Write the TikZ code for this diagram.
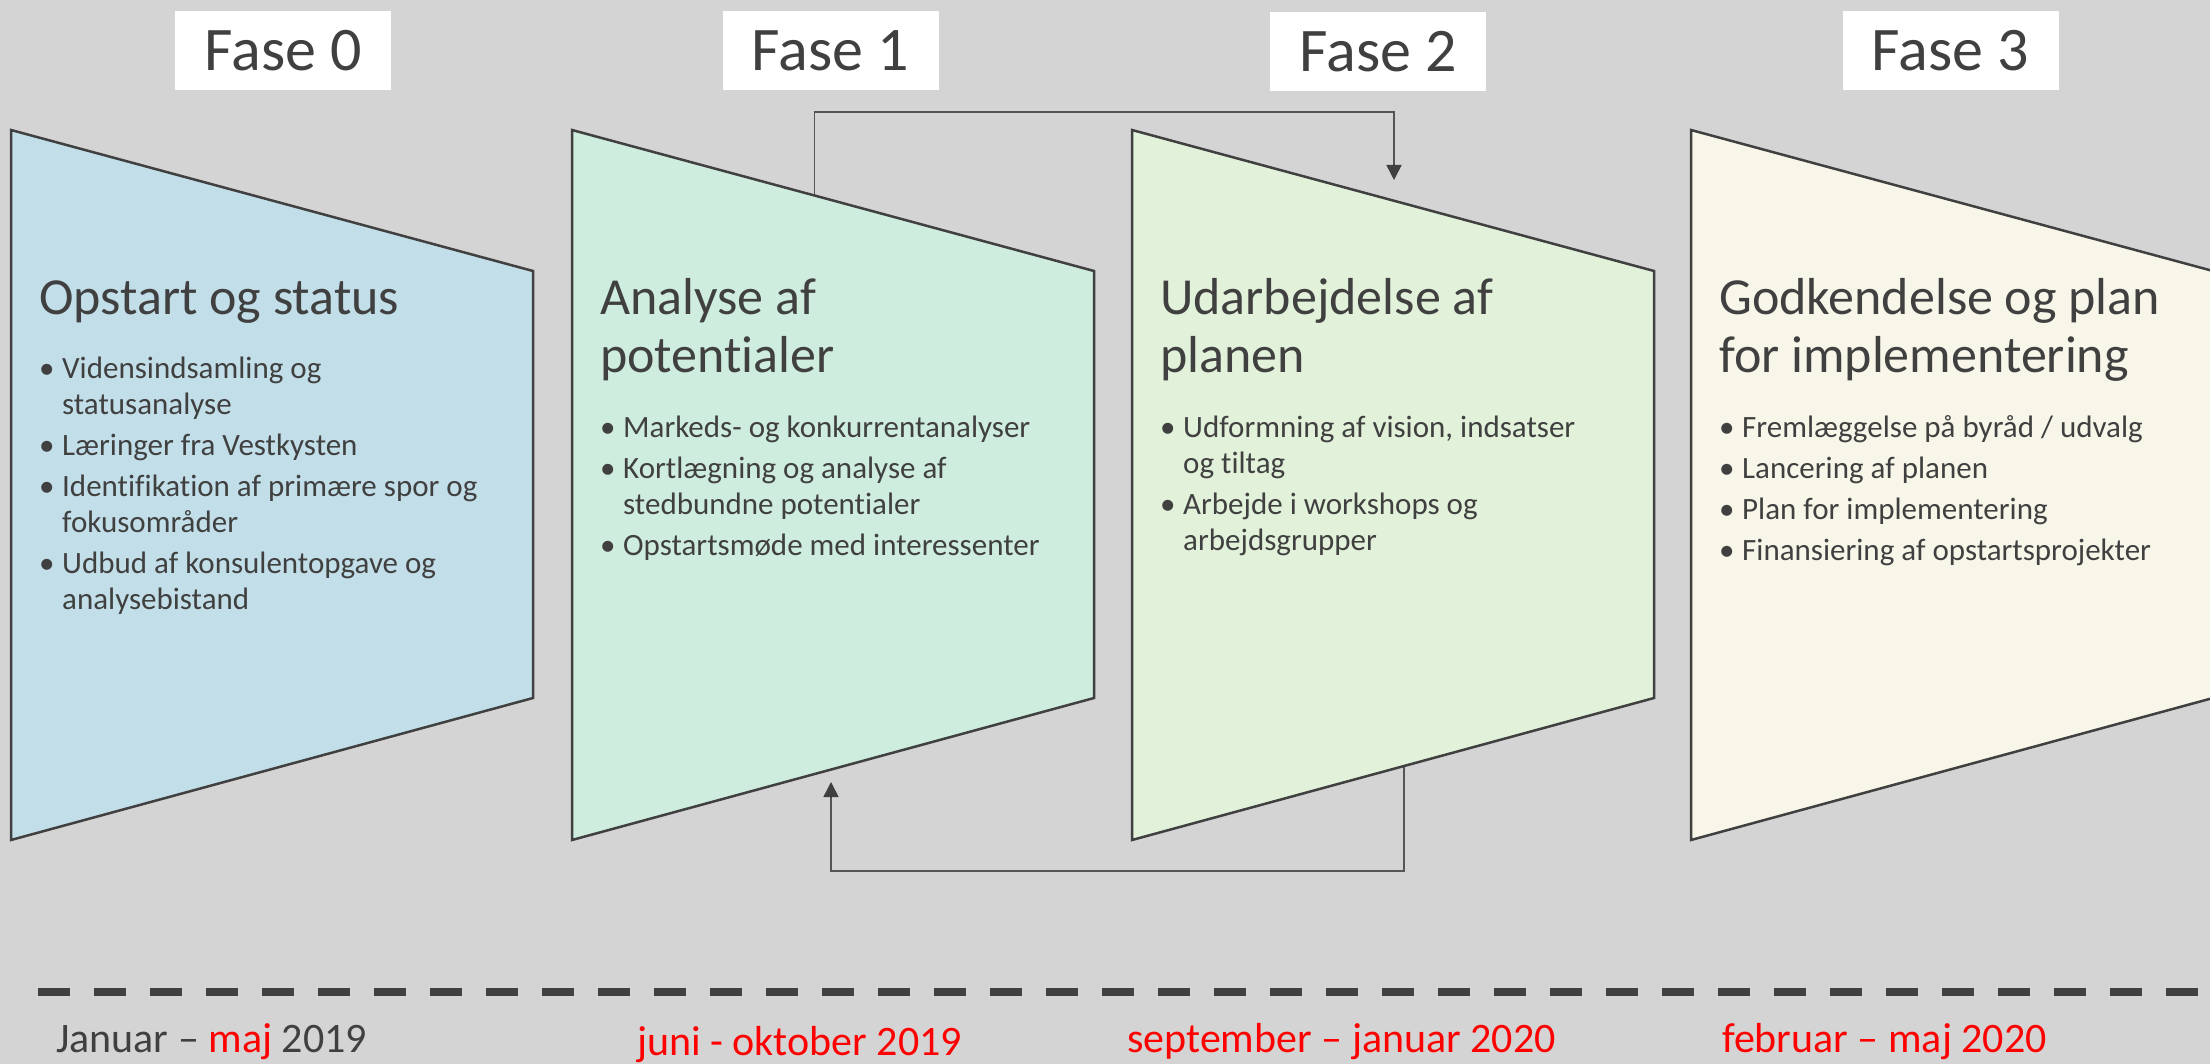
\documentclass[tikz,border=0pt]{standalone}
\usepackage{fontspec}
\setmainfont{Carlito}[Ligatures=NoCommon]
\usetikzlibrary{arrows.meta,calc}

\definecolor{bg}{HTML}{D4D4D4}
\definecolor{ink}{HTML}{404040}
\definecolor{wire}{HTML}{555555}
\definecolor{fasezero}{HTML}{C2DEE8}
\definecolor{faseone}{HTML}{CEEDDE}
\definecolor{fasetwo}{HTML}{E2F2DA}
\definecolor{fasethree}{HTML}{F7F6E9}
\definecolor{datered}{HTML}{FF0000}

% bullet list set as a top-aligned table: bullet column + text column
\newcommand\phaselist[1]{\begin{tabular}[t]{@{}l@{}l@{}}#1\end{tabular}}
\newcommand\bul{\makebox[23pt][l]{•}}
\newcommand\twolines[2]{\begin{tabular}[t]{@{}l@{}}#1\\#2\end{tabular}}

\begin{document}
\begin{tikzpicture}[x=1pt,y=-1pt,
  phase/.style={draw=ink,line width=2.5pt,line join=miter},
  fasebox/.style={fill=white,inner sep=0pt,minimum width=216pt,minimum height=79pt,
    text=ink,font=\fontsize{62}{70}\selectfont},
  head/.style={anchor=base west,inner sep=0pt,text=ink,font=\fontsize{52}{58}\selectfont},
  items/.style={anchor=base west,inner sep=0pt,text=ink,font=\fontsize{31}{36}\selectfont},
  datetext/.style={anchor=base west,inner sep=0pt,text=ink,font=\fontsize{42}{48}\selectfont},
  conn/.style={draw=wire,line width=1.6pt},
  tip/.style={-{Triangle[width=15pt,length=15pt]},color=ink}]

\useasboundingbox (0,0) rectangle (2210,1064);
\fill[bg] (0,0) rectangle (2210,1064);
\clip (0,0) rectangle (2210,1064);

% phase titles
\node[fasebox] (f0) at (283,50.5) {Fase 0};
\node[fasebox] (f1) at (830.5,50.5) {Fase 1};
\node[fasebox] (f2) at (1378,51.5) {Fase 2};
\node[fasebox] (f3) at (1950.5,50.5) {Fase 3};

% corner points of the four funnel shapes
\foreach \n/\L in {0/11,1/572,2/1132,3/1691}{
  \coordinate (s\n tl) at (\L,130);
  \coordinate (s\n tr) at (\L+522,271);
  \coordinate (s\n br) at (\L+522,698);
  \coordinate (s\n bl) at (\L,840);
}

% feedback loops between phase 1 and phase 2
\coordinate (p1out) at ($(s1tl)!0.4645!(s1tr)$);
\coordinate (p2in) at (1394,180);
\coordinate (toprail) at (0,112);
\draw[conn] (p1out) -- (p1out |- toprail) -- (p2in |- toprail) -- ($(p2in)+(0,-14)$);
\draw[conn,tip] ($(p2in)+(0,-16)$) -- (p2in);

\coordinate (p2out) at ($(s2bl)!0.521!(s2br)$);
\coordinate (p1in) at (831,782);
\coordinate (botrail) at (0,871);
\draw[conn] (p2out) -- (p2out |- botrail) -- (p1in |- botrail) -- ($(p1in)+(0,14)$);
\draw[conn,tip] ($(p1in)+(0,16)$) -- (p1in);

% funnel shapes
\draw[phase,fill=fasezero] (s0tl) -- (s0tr) -- (s0br) -- (s0bl) -- cycle;
\draw[phase,fill=faseone] (s1tl) -- (s1tr) -- (s1br) -- (s1bl) -- cycle;
\draw[phase,fill=fasetwo] (s2tl) -- (s2tr) -- (s2br) -- (s2bl) -- cycle;
\draw[phase,fill=fasethree] (s3tl) -- (s3tr) -- (s3br) -- (s3bl) -- cycle;

% headings
\node[head] (h0) at (39,315) {Opstart og status};
\node[head] (h1) at (600,315) {\twolines{Analyse af}{potentialer}};
\node[head] (h2) at (1160,315) {\twolines{Udarbejdelse af}{planen}};
\node[head] (h3) at (1719,315) {\twolines{Godkendelse og plan}{for implementering}};

% bullet lists
\node[items] (b0) at (39,378) {\phaselist{%
  \bul & Vidensindsamling og\\ & statusanalyse\\[5pt]
  \bul & Læringer fra Vestkysten\\[5pt]
  \bul & Identifikation af primære spor og\\ & fokusområder\\[5pt]
  \bul & Udbud af konsulentopgave og\\ & analysebistand}};
\node[items] (b1) at (600,437) {\phaselist{%
  \bul & Markeds- og konkurrentanalyser\\[5pt]
  \bul & Kortlægning og analyse af\\ & stedbundne potentialer\\[5pt]
  \bul & Opstartsmøde med interessenter}};
\node[items] (b2) at (1160,437) {\phaselist{%
  \bul & Udformning af vision, indsatser\\ & og tiltag\\[5pt]
  \bul & Arbejde i workshops og\\ & arbejdsgrupper}};
\node[items] (b3) at (1719,437) {\phaselist{%
  \bul & Fremlæggelse på byråd / udvalg\\[5pt]
  \bul & Lancering af planen\\[5pt]
  \bul & Plan for implementering\\[5pt]
  \bul & Finansiering af opstartsprojekter}};

% time line
\draw[ink,line width=8pt,dash pattern=on 32pt off 24pt] (38,992) -- (2199,992);

\node[datetext] (d0) at (56,1052) {Januar – \textcolor{datered}{maj} 2019};
\node[datetext,text=datered] (d1) at (637,1055) {juni - oktober 2019};
\node[datetext,text=datered] (d2) at (1127,1052) {september – januar 2020};
\node[datetext,text=datered] (d3) at (1722,1052) {februar – maj 2020};

\end{tikzpicture}
\end{document}
